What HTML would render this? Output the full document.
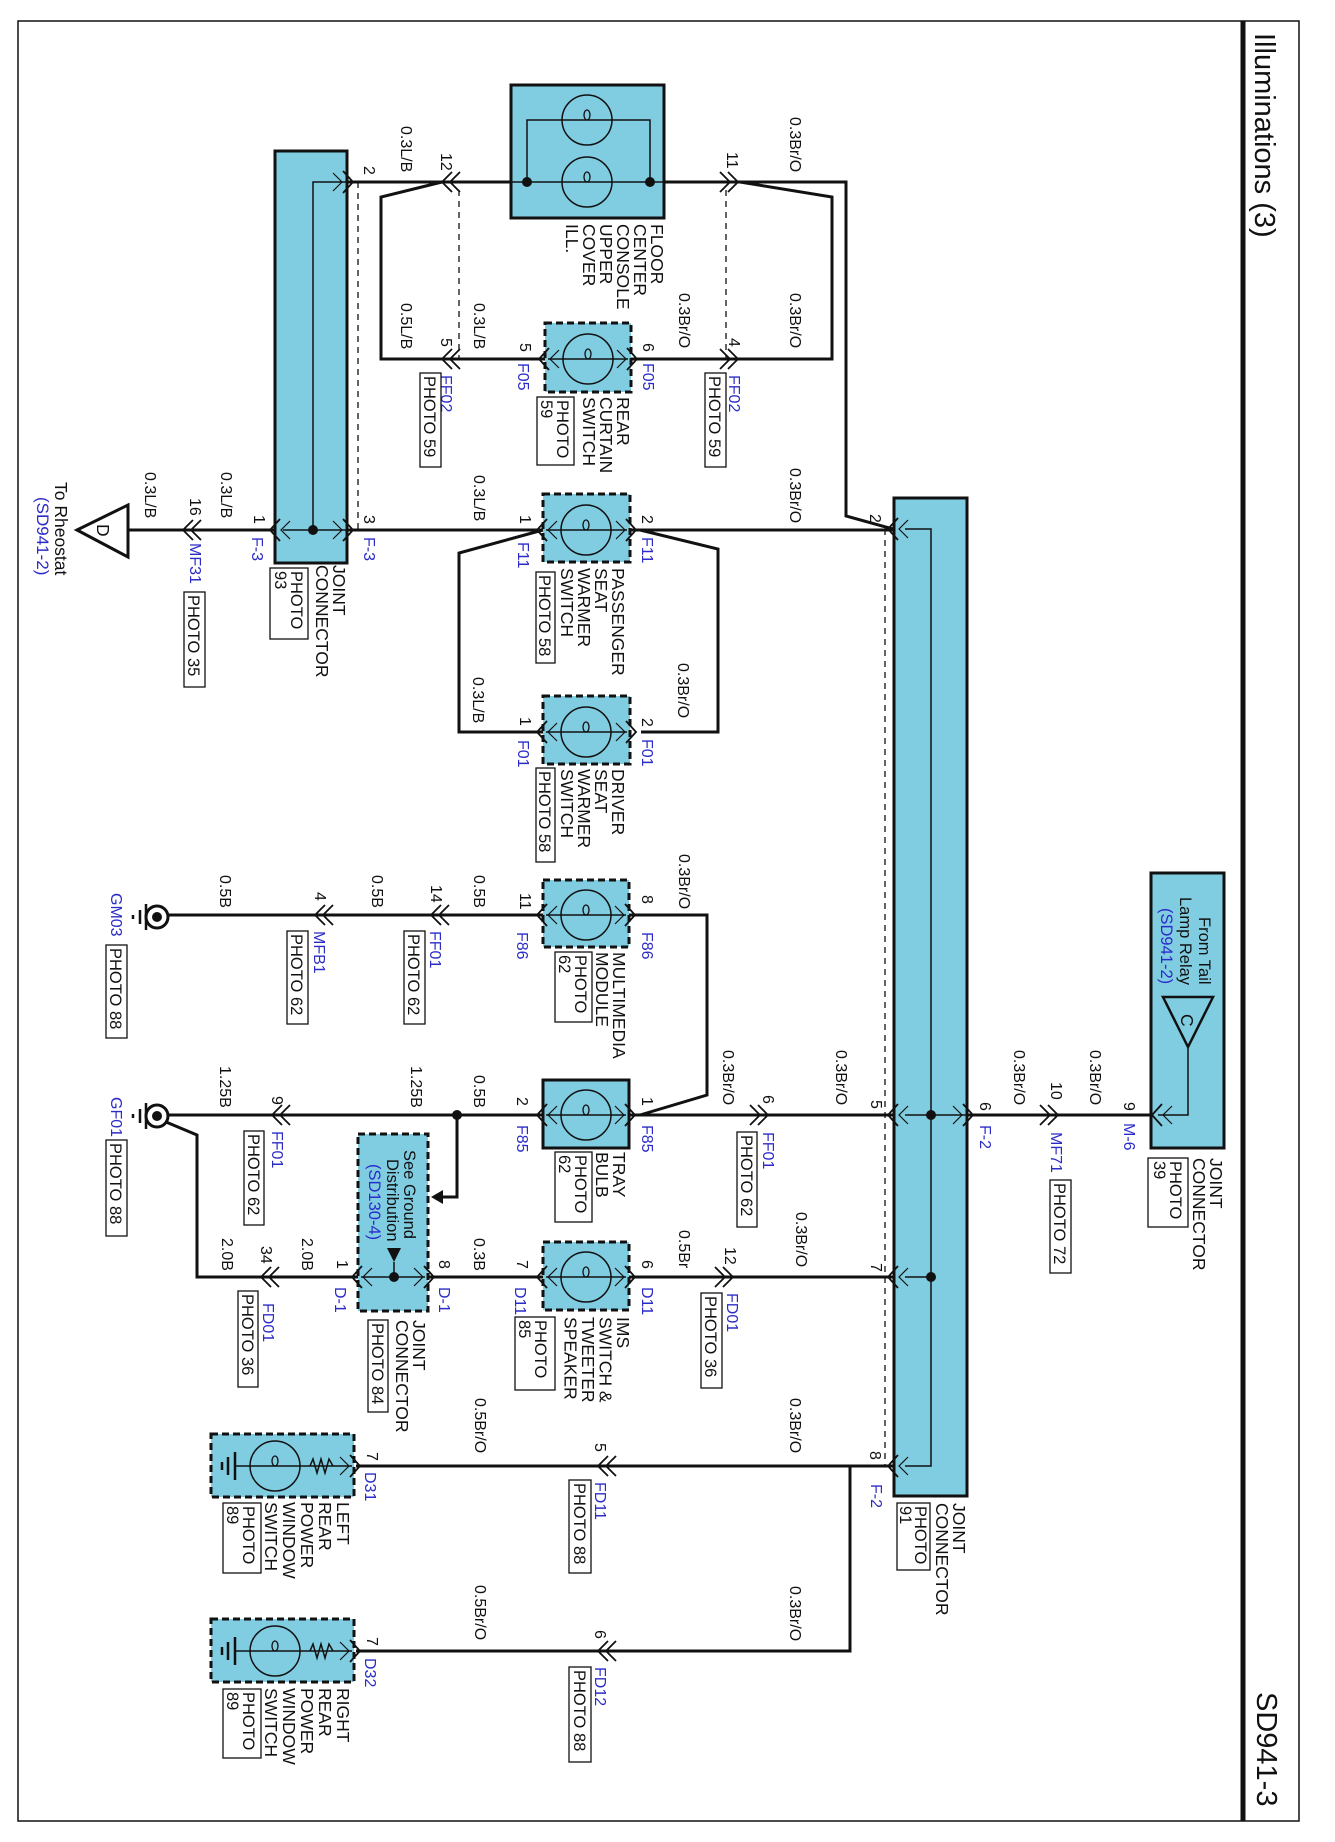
<!DOCTYPE html>
<html><head><meta charset="utf-8"><style>
html,body{margin:0;padding:0;background:#fff}
svg{display:block}
text{font-family:"Liberation Sans",Arial,sans-serif;fill:#111}
.w{font-size:16px}
.c{font-size:17.5px}
.p{font-size:16px}
.b{font-size:16px;fill:#2b2bc8}
.ph{font-size:16.5px}
.wire{fill:none;stroke:#111;stroke-width:3}
.thin{fill:none;stroke:#111;stroke-width:1.5}
.box{fill:#80cde2;stroke:#111;stroke-width:3}
.dbox{fill:#80cde2;stroke:#111;stroke-width:3;stroke-dasharray:7 4}
.dash{fill:none;stroke:#111;stroke-width:1.3;stroke-dasharray:6 5}
.pb{fill:none;stroke:#111;stroke-width:1.3}
</style></head><body>
<svg width="1335" height="1842" viewBox="0 0 1335 1842" xmlns="http://www.w3.org/2000/svg">
<defs>
<g id="bulb"><circle cx="0" cy="0" r="25" fill="none" stroke="#111" stroke-width="1.5"/><ellipse cx="0" cy="-5" rx="3" ry="5" fill="none" stroke="#111" stroke-width="1.3"/></g>
<g id="cl"><path d="M10,-10 L0,0 L10,10 M18,-10 L8,0 L18,10" fill="none" stroke="#111" stroke-width="1.8"/></g>
<g id="cr"><path d="M-10,-10 L0,0 L-10,10 M-18,-10 L-8,0 L-18,10" fill="none" stroke="#111" stroke-width="1.8"/></g>
<g id="pl"><path d="M12,-11 L2,0 L12,11" fill="none" stroke="#111" stroke-width="1.8"/><path d="M22,-9 L13,0 L22,9" fill="none" stroke="#111" stroke-width="1.2"/></g>
<g id="pr"><path d="M-12,-11 L-2,0 L-12,11" fill="none" stroke="#111" stroke-width="1.8"/><path d="M-22,-9 L-13,0 L-22,9" fill="none" stroke="#111" stroke-width="1.2"/></g>
</defs>

<!-- border -->
<path d="M18,21 H1299 V1821 H18 Z" fill="none" stroke="#111" stroke-width="1.5"/>
<line x1="1243" y1="21" x2="1243" y2="1821" stroke="#111" stroke-width="5"/>
<text style="font-size:29px" transform="translate(1255,33) rotate(90)">Illuminations (3)</text>
<text style="font-size:29px" transform="translate(1257,1692) rotate(90)">SD941-3</text>

<!-- ===== TOP SECTION ===== -->
<rect class="box" x="275" y="151" width="72" height="412"/>
<path class="thin" d="M347,182 H313 V530 M283,530 H347"/>
<circle cx="313" cy="530" r="5" fill="#111"/>
<use href="#pr" x="355" y="182"/>
<use href="#pl" x="268" y="530"/>
<use href="#pr" x="355" y="530"/>
<path class="dash" d="M358,182 V530 M459,190 V359 M726,190 V359"/>

<rect class="box" x="511" y="85" width="153" height="133"/>
<path class="thin" d="M511,182 H664 M527,182 V120 H650 V182"/>
<use href="#bulb" x="587" y="120"/>
<use href="#bulb" x="587" y="182"/>
<circle cx="527" cy="182" r="5" fill="#111"/>
<circle cx="650" cy="182" r="5" fill="#111"/>

<path class="wire" d="M348,182 H511 M664,182 H846 V516 L893,529"/>
<path class="wire" d="M442,182 L381,197 V359 H545 M631,359 H832 V197 L740,182"/>
<use href="#cl" x="442" y="182"/>
<use href="#cr" x="738" y="182"/>
<use href="#cl" x="442" y="359"/>
<use href="#cr" x="738" y="359"/>

<rect class="dbox" x="545" y="323" width="86" height="69"/>
<path class="thin" d="M548,359 H628"/>
<use href="#bulb" x="588" y="359"/>
<use href="#pl" x="537" y="359"/>
<use href="#pr" x="639" y="359"/>

<text class="w" transform="translate(401,126) rotate(90)">0.3L/B</text>
<text class="p" transform="translate(364,166) rotate(90)">2</text>
<text class="p" transform="translate(441,153) rotate(90)">12</text>
<text class="p" transform="translate(727,152) rotate(90)">11</text>
<text class="w" transform="translate(790,117) rotate(90)">0.3Br/O</text>
<text class="c" transform="translate(651,224) rotate(90)"><tspan x="0">FLOOR</tspan><tspan x="0" dy="17">CENTER</tspan><tspan x="0" dy="17">CONSOLE</tspan><tspan x="0" dy="17">UPPER</tspan><tspan x="0" dy="17">COVER</tspan><tspan x="0" dy="17">ILL.</tspan></text>
<text class="w" transform="translate(401,303) rotate(90)">0.5L/B</text>
<text class="p" transform="translate(441,338) rotate(90)">5</text>
<text class="w" transform="translate(474,303) rotate(90)">0.3L/B</text>
<text class="p" transform="translate(520,343) rotate(90)">5</text>
<text class="p" transform="translate(643,343) rotate(90)">6</text>
<text class="w" transform="translate(679,293) rotate(90)">0.3Br/O</text>
<text class="p" transform="translate(729,338) rotate(90)">4</text>
<text class="w" transform="translate(790,293) rotate(90)">0.3Br/O</text>
<text class="b" transform="translate(441,375) rotate(90)">FF02</text>
<rect class="pb" x="420" y="373" width="21" height="94"/>
<text class="ph" transform="translate(424,376) rotate(90)">PHOTO 59</text>
<text class="b" transform="translate(518,363) rotate(90)">F05</text>
<text class="b" transform="translate(643,363) rotate(90)">F05</text>
<text class="c" transform="translate(617,397) rotate(90)"><tspan x="0">REAR</tspan><tspan x="0" dy="17">CURTAIN</tspan><tspan x="0" dy="17">SWITCH</tspan></text>
<rect class="pb" x="537" y="397" width="37" height="68"/>
<text class="ph" transform="translate(557,400) rotate(90)"><tspan x="0">PHOTO</tspan><tspan x="0" dy="16">59</tspan></text>
<text class="b" transform="translate(729,375) rotate(90)">FF02</text>
<rect class="pb" x="705" y="373" width="21" height="94"/>
<text class="ph" transform="translate(709,376) rotate(90)">PHOTO 59</text>
<text class="w" transform="translate(790,468) rotate(90)">0.3Br/O</text>
<text class="w" transform="translate(474,475) rotate(90)">0.3L/B</text>

<!-- ===== RHEOSTAT / SEAT ROW ===== -->
<polygon points="77,530 128,505 128,557" fill="#fff" stroke="#111" stroke-width="3"/>
<text class="c" transform="translate(97,524) rotate(90)">D</text>
<path class="wire" d="M128,530 H275 M348,530 H543 M630,530 H893"/>
<path class="wire" d="M543,530 L459,553 V732 H543 M640,530 L718,549 V732 H641"/>
<use href="#cl" x="183" y="530"/>
<text class="c" transform="translate(55,482) rotate(90)">To Rheostat</text>
<text class="b" style="font-size:17px" transform="translate(37,497) rotate(90)">(SD941-2)</text>
<text class="w" transform="translate(145,472) rotate(90)">0.3L/B</text>
<text class="w" transform="translate(221,472) rotate(90)">0.3L/B</text>
<text class="p" transform="translate(190,498) rotate(90)">16</text>
<text class="p" transform="translate(254,515) rotate(90)">1</text>
<text class="p" transform="translate(364,515) rotate(90)">3</text>
<text class="b" transform="translate(190,543) rotate(90)">MF31</text>
<rect class="pb" x="184" y="592" width="21" height="95"/>
<text class="ph" transform="translate(188,595) rotate(90)">PHOTO 35</text>
<text class="b" transform="translate(252,537) rotate(90)">F-3</text>
<text class="b" transform="translate(364,537) rotate(90)">F-3</text>
<text class="c" transform="translate(333,565) rotate(90)"><tspan x="0">JOINT</tspan><tspan x="0" dy="17">CONNECTOR</tspan></text>
<rect class="pb" x="270" y="568" width="38" height="71"/>
<text class="ph" transform="translate(291,571) rotate(90)"><tspan x="0">PHOTO</tspan><tspan x="0" dy="16">93</tspan></text>

<rect class="dbox" x="543" y="494" width="87" height="68"/>
<path class="thin" d="M546,530 H627"/>
<use href="#bulb" x="586" y="530"/>
<use href="#pl" x="535" y="530"/>
<use href="#pr" x="638" y="530"/>
<text class="p" transform="translate(520,515) rotate(90)">1</text>
<text class="p" transform="translate(642,515) rotate(90)">2</text>
<text class="b" transform="translate(518,542) rotate(90)">F11</text>
<text class="b" transform="translate(642,537) rotate(90)">F11</text>
<text class="c" transform="translate(612,568) rotate(90)"><tspan x="0">PASSENGER</tspan><tspan x="0" dy="17">SEAT</tspan><tspan x="0" dy="17">WARMER</tspan><tspan x="0" dy="17">SWITCH</tspan></text>
<rect class="pb" x="536" y="572" width="19" height="91"/>
<text class="ph" transform="translate(539,575) rotate(90)">PHOTO 58</text>
<text class="w" transform="translate(678,663) rotate(90)">0.3Br/O</text>
<text class="w" transform="translate(473,677) rotate(90)">0.3L/B</text>

<rect class="dbox" x="543" y="696" width="87" height="68"/>
<path class="thin" d="M546,732 H627"/>
<use href="#bulb" x="586" y="732"/>
<use href="#pl" x="535" y="732"/>
<use href="#pr" x="638" y="732"/>
<text class="p" transform="translate(520,717) rotate(90)">1</text>
<text class="p" transform="translate(642,718) rotate(90)">2</text>
<text class="b" transform="translate(518,740) rotate(90)">F01</text>
<text class="b" transform="translate(642,739) rotate(90)">F01</text>
<text class="c" transform="translate(612,769) rotate(90)"><tspan x="0">DRIVER</tspan><tspan x="0" dy="17">SEAT</tspan><tspan x="0" dy="17">WARMER</tspan><tspan x="0" dy="17">SWITCH</tspan></text>
<rect class="pb" x="536" y="768" width="19" height="94"/>
<text class="ph" transform="translate(539,771) rotate(90)">PHOTO 58</text>

<!-- ===== MAIN JOINT ===== -->
<rect class="box" x="894" y="498" width="73" height="998"/>
<path class="thin" d="M905,529 H931 V1466 H905 M905,1115 H967 M905,1277 H931"/>
<circle cx="931" cy="1115" r="5" fill="#111"/>
<circle cx="931" cy="1277" r="5" fill="#111"/>
<use href="#pl" x="886" y="529"/>
<use href="#pl" x="886" y="1115"/>
<use href="#pl" x="886" y="1277"/>
<use href="#pl" x="886" y="1466"/>
<use href="#pr" x="975" y="1115"/>
<path class="dash" d="M885,529 V1466"/>
<text class="p" transform="translate(870,514) rotate(90)">2</text>
<text class="p" transform="translate(871,1100) rotate(90)">5</text>
<text class="p" transform="translate(871,1263) rotate(90)">7</text>
<text class="p" transform="translate(870,1451) rotate(90)">8</text>
<text class="p" transform="translate(980,1102) rotate(90)">6</text>
<text class="b" transform="translate(980,1125) rotate(90)">F-2</text>
<text class="b" transform="translate(871,1484) rotate(90)">F-2</text>
<text class="c" transform="translate(953,1503) rotate(90)"><tspan x="0">JOINT</tspan><tspan x="0" dy="17">CONNECTOR</tspan></text>
<rect class="pb" x="897" y="1503" width="33" height="67"/>
<text class="ph" transform="translate(915,1506) rotate(90)"><tspan x="0">PHOTO</tspan><tspan x="0" dy="15">91</tspan></text>

<!-- ===== MULTIMEDIA ROW ===== -->
<path class="wire" d="M543,915 H169 M629,915 H707 V1095 L640,1115"/>
<circle cx="157" cy="917" r="11" fill="#fff" stroke="#111" stroke-width="3"/>
<circle cx="157" cy="917" r="5" fill="#111"/>
<path d="M146,904 V930 M140,910 V924 M133,915 V919" stroke="#111" stroke-width="2.5"/>
<use href="#cl" x="315" y="915"/>
<use href="#cl" x="431" y="915"/>
<rect class="dbox" x="543" y="880" width="86" height="67"/>
<path class="thin" d="M546,915 H626"/>
<use href="#bulb" x="586" y="915"/>
<use href="#pl" x="535" y="915"/>
<use href="#pr" x="637" y="915"/>
<text class="w" transform="translate(679,854) rotate(90)">0.3Br/O</text>
<text class="p" transform="translate(642,895) rotate(90)">8</text>
<text class="p" transform="translate(520,893) rotate(90)">11</text>
<text class="b" transform="translate(517,932) rotate(90)">F86</text>
<text class="b" transform="translate(642,932) rotate(90)">F86</text>
<text class="w" transform="translate(474,875) rotate(90)">0.5B</text>
<text class="p" transform="translate(431,885) rotate(90)">14</text>
<text class="w" transform="translate(372,875) rotate(90)">0.5B</text>
<text class="p" transform="translate(315,892) rotate(90)">4</text>
<text class="w" transform="translate(220,875) rotate(90)">0.5B</text>
<text class="b" transform="translate(430,931) rotate(90)">FF01</text>
<rect class="pb" x="404" y="931" width="21" height="93"/>
<text class="ph" transform="translate(408,934) rotate(90)">PHOTO 62</text>
<text class="b" transform="translate(314,931) rotate(90)">MFB1</text>
<rect class="pb" x="287" y="931" width="21" height="93"/>
<text class="ph" transform="translate(291,934) rotate(90)">PHOTO 62</text>
<text class="b" transform="translate(111,893) rotate(90)">GM03</text>
<rect class="pb" x="106" y="945" width="21" height="93"/>
<text class="ph" transform="translate(110,948) rotate(90)">PHOTO 88</text>
<text class="c" transform="translate(613,952) rotate(90)"><tspan x="0">MULTIMEDIA</tspan><tspan x="0" dy="17">MODULE</tspan></text>
<rect class="pb" x="555" y="952" width="37" height="70"/>
<text class="ph" transform="translate(575,955) rotate(90)"><tspan x="0">PHOTO</tspan><tspan x="0" dy="16">62</tspan></text>

<!-- ===== TRAY ROW ===== -->
<path class="wire" d="M543,1115 H169 M629,1115 H893 M967,1115 H1151"/>
<path class="wire" d="M457,1115 V1197 H442"/>
<polygon points="431,1197 443,1190 443,1204" fill="#111"/>
<circle cx="457" cy="1115" r="5" fill="#111"/>
<circle cx="157" cy="1116" r="11" fill="#fff" stroke="#111" stroke-width="3"/>
<circle cx="157" cy="1116" r="5" fill="#111"/>
<path d="M146,1103 V1129 M140,1109 V1123 M133,1114 V1118" stroke="#111" stroke-width="2.5"/>
<path class="wire" d="M166,1122 L197,1135 V1277 H358"/>
<use href="#cl" x="272" y="1115"/>
<use href="#cr" x="768" y="1115"/>
<use href="#cr" x="1058" y="1115"/>
<rect class="box" x="543" y="1080" width="86" height="68"/>
<path class="thin" d="M546,1115 H626"/>
<use href="#bulb" x="586" y="1115"/>
<use href="#pl" x="535" y="1115"/>
<use href="#pr" x="637" y="1115"/>
<text class="w" transform="translate(474,1075) rotate(90)">0.5B</text>
<text class="w" transform="translate(411,1066) rotate(90)">1.25B</text>
<text class="w" transform="translate(220,1066) rotate(90)">1.25B</text>
<text class="p" transform="translate(517,1097) rotate(90)">2</text>
<text class="p" transform="translate(642,1097) rotate(90)">1</text>
<text class="p" transform="translate(272,1096) rotate(90)">9</text>
<text class="b" transform="translate(272,1131) rotate(90)">FF01</text>
<rect class="pb" x="244" y="1131" width="20" height="94"/>
<text class="ph" transform="translate(248,1134) rotate(90)">PHOTO 62</text>
<text class="b" transform="translate(111,1097) rotate(90)">GF01</text>
<rect class="pb" x="106" y="1140" width="21" height="96"/>
<text class="ph" transform="translate(110,1143) rotate(90)">PHOTO 88</text>
<text class="b" transform="translate(517,1125) rotate(90)">F85</text>
<text class="b" transform="translate(642,1125) rotate(90)">F85</text>
<text class="c" transform="translate(613,1152) rotate(90)"><tspan x="0">TRAY</tspan><tspan x="0" dy="17">BULB</tspan></text>
<rect class="pb" x="555" y="1152" width="37" height="70"/>
<text class="ph" transform="translate(575,1155) rotate(90)"><tspan x="0">PHOTO</tspan><tspan x="0" dy="16">62</tspan></text>
<text class="w" transform="translate(723,1050) rotate(90)">0.3Br/O</text>
<text class="p" transform="translate(763,1095) rotate(90)">6</text>
<text class="b" transform="translate(763,1132) rotate(90)">FF01</text>
<rect class="pb" x="737" y="1132" width="20" height="95"/>
<text class="ph" transform="translate(741,1135) rotate(90)">PHOTO 62</text>
<text class="w" transform="translate(836,1050) rotate(90)">0.3Br/O</text>
<text class="w" transform="translate(1014,1050) rotate(90)">0.3Br/O</text>
<text class="p" transform="translate(1051,1082) rotate(90)">10</text>
<text class="b" transform="translate(1051,1132) rotate(90)">MF71</text>
<rect class="pb" x="1050" y="1180" width="21" height="93"/>
<text class="ph" transform="translate(1054,1183) rotate(90)">PHOTO 72</text>
<text class="w" transform="translate(1090,1050) rotate(90)">0.3Br/O</text>
<text class="p" transform="translate(1124,1102) rotate(90)">9</text>
<text class="b" transform="translate(1124,1123) rotate(90)">M-6</text>

<!-- tail lamp joint -->
<rect class="box" x="1151" y="873" width="73" height="275"/>
<polygon points="1163,997 1213,997 1188,1047" fill="none" stroke="#111" stroke-width="2.5"/>
<text class="c" transform="translate(1181,1014) rotate(90)">C</text>
<path class="thin" d="M1188,1047 V1115 H1158"/>
<use href="#pl" x="1150" y="1115"/>
<text class="c" style="font-size:16.5px" transform="translate(1199,917) rotate(90)">From Tail</text>
<text class="c" style="font-size:16.5px" transform="translate(1180,897) rotate(90)">Lamp Relay</text>
<text class="b" style="font-size:16.5px" transform="translate(1161,908) rotate(90)">(SD941-2)</text>
<text class="c" transform="translate(1210,1158) rotate(90)"><tspan x="0">JOINT</tspan><tspan x="0" dy="17">CONNECTOR</tspan></text>
<rect class="pb" x="1148" y="1158" width="40" height="69"/>
<text class="ph" transform="translate(1170,1161) rotate(90)"><tspan x="0">PHOTO</tspan><tspan x="0" dy="16">39</tspan></text>

<!-- ===== IMS ROW ===== -->
<rect class="dbox" x="358" y="1134" width="70" height="177"/>
<path class="thin" d="M361,1277 H425 M394,1277 V1262"/>
<polygon points="387,1248 401,1248 394,1262" fill="#111"/>
<circle cx="394" cy="1277" r="5" fill="#111"/>
<use href="#pl" x="350" y="1277"/>
<use href="#pr" x="436" y="1277"/>
<text class="c" style="font-size:16.5px" transform="translate(404,1150) rotate(90)">See Ground</text>
<text class="c" style="font-size:16.5px" transform="translate(387,1159) rotate(90)">Distribution</text>
<text class="b" style="font-size:16.5px" transform="translate(369,1164) rotate(90)">(SD130-4)</text>
<path class="wire" d="M428,1277 H543 M629,1277 H893"/>
<use href="#cl" x="261" y="1277"/>
<use href="#cr" x="733" y="1277"/>
<rect class="dbox" x="543" y="1242" width="86" height="68"/>
<path class="thin" d="M546,1277 H626"/>
<use href="#bulb" x="586" y="1277"/>
<use href="#pl" x="535" y="1277"/>
<use href="#pr" x="637" y="1277"/>
<text class="w" transform="translate(796,1212) rotate(90)">0.3Br/O</text>
<text class="w" transform="translate(679,1230) rotate(90)">0.5Br</text>
<text class="p" transform="translate(725,1247) rotate(90)">12</text>
<text class="b" transform="translate(727,1293) rotate(90)">FD01</text>
<rect class="pb" x="701" y="1293" width="21" height="95"/>
<text class="ph" transform="translate(705,1296) rotate(90)">PHOTO 36</text>
<text class="w" transform="translate(474,1238) rotate(90)">0.3B</text>
<text class="p" transform="translate(517,1260) rotate(90)">7</text>
<text class="p" transform="translate(642,1260) rotate(90)">6</text>
<text class="p" transform="translate(439,1260) rotate(90)">8</text>
<text class="p" transform="translate(337,1260) rotate(90)">1</text>
<text class="w" transform="translate(302,1238) rotate(90)">2.0B</text>
<text class="p" transform="translate(261,1246) rotate(90)">34</text>
<text class="w" transform="translate(222,1238) rotate(90)">2.0B</text>
<text class="b" transform="translate(439,1287) rotate(90)">D-1</text>
<text class="b" transform="translate(335,1287) rotate(90)">D-1</text>
<text class="b" transform="translate(515,1287) rotate(90)">D11</text>
<text class="b" transform="translate(642,1287) rotate(90)">D11</text>
<text class="b" transform="translate(263,1303) rotate(90)">FD01</text>
<rect class="pb" x="238" y="1291" width="20" height="96"/>
<text class="ph" transform="translate(242,1294) rotate(90)">PHOTO 36</text>
<text class="c" transform="translate(617,1317) rotate(90)"><tspan x="0">IMS</tspan><tspan x="0" dy="17.5">SWITCH &amp;</tspan><tspan x="0" dy="17.5">TWEETER</tspan><tspan x="0" dy="17.5">SPEAKER</tspan></text>
<rect class="pb" x="515" y="1317" width="40" height="73"/>
<text class="ph" transform="translate(535,1320) rotate(90)"><tspan x="0">PHOTO</tspan><tspan x="0" dy="16">85</tspan></text>
<text class="c" transform="translate(413,1320) rotate(90)"><tspan x="0">JOINT</tspan><tspan x="0" dy="17">CONNECTOR</tspan></text>
<rect class="pb" x="368" y="1320" width="20" height="92"/>
<text class="ph" transform="translate(372,1323) rotate(90)">PHOTO 84</text>

<!-- ===== WINDOW SWITCHES ===== -->
<path class="wire" d="M893,1466 H356 M850,1466 V1651 H356"/>
<use href="#cl" x="598" y="1466"/>
<use href="#cl" x="598" y="1651"/>
<g>
<rect class="dbox" x="211" y="1434" width="143" height="63"/>
<path class="thin" d="M235,1466 H352"/>
<path d="M222,1462 V1470 M228,1457 V1475 M235,1452 V1480" stroke="#111" stroke-width="2.5"/>
<circle cx="275" cy="1466" r="25" fill="none" stroke="#111" stroke-width="1.5"/>
<ellipse cx="275" cy="1461" rx="3" ry="5" fill="none" stroke="#111" stroke-width="1.3"/>
<path class="thin" d="M310,1466 L313,1459 L317,1473 L321,1459 L325,1473 L329,1459 L333,1466"/>
<use href="#pr" x="362" y="1466"/>
</g>
<g>
<rect class="dbox" x="211" y="1619" width="143" height="63"/>
<path class="thin" d="M235,1651 H352"/>
<path d="M222,1647 V1655 M228,1642 V1660 M235,1637 V1665" stroke="#111" stroke-width="2.5"/>
<circle cx="275" cy="1651" r="25" fill="none" stroke="#111" stroke-width="1.5"/>
<ellipse cx="275" cy="1646" rx="3" ry="5" fill="none" stroke="#111" stroke-width="1.3"/>
<path class="thin" d="M310,1651 L313,1644 L317,1658 L321,1644 L325,1658 L329,1644 L333,1651"/>
<use href="#pr" x="362" y="1651"/>
</g>
<text class="w" transform="translate(790,1398) rotate(90)">0.3Br/O</text>
<text class="w" transform="translate(475,1398) rotate(90)">0.5Br/O</text>
<text class="p" transform="translate(595,1443) rotate(90)">5</text>
<text class="b" transform="translate(595,1482) rotate(90)">FD11</text>
<rect class="pb" x="569" y="1480" width="22" height="93"/>
<text class="ph" transform="translate(574,1483) rotate(90)">PHOTO 88</text>
<text class="p" transform="translate(367,1452) rotate(90)">7</text>
<text class="b" transform="translate(365,1472) rotate(90)">D31</text>
<text class="c" transform="translate(337,1502) rotate(90)"><tspan x="0">LEFT</tspan><tspan x="0" dy="18">REAR</tspan><tspan x="0" dy="18">POWER</tspan><tspan x="0" dy="18">WINDOW</tspan><tspan x="0" dy="18">SWITCH</tspan></text>
<rect class="pb" x="223" y="1503" width="38" height="70"/>
<text class="ph" transform="translate(243,1506) rotate(90)"><tspan x="0">PHOTO</tspan><tspan x="0" dy="16">89</tspan></text>

<text class="w" transform="translate(790,1586) rotate(90)">0.3Br/O</text>
<text class="w" transform="translate(475,1585) rotate(90)">0.5Br/O</text>
<text class="p" transform="translate(595,1630) rotate(90)">6</text>
<text class="b" transform="translate(595,1667) rotate(90)">FD12</text>
<rect class="pb" x="569" y="1667" width="22" height="95"/>
<text class="ph" transform="translate(574,1670) rotate(90)">PHOTO 88</text>
<text class="p" transform="translate(367,1637) rotate(90)">7</text>
<text class="b" transform="translate(365,1658) rotate(90)">D32</text>
<text class="c" transform="translate(337,1688) rotate(90)"><tspan x="0">RIGHT</tspan><tspan x="0" dy="18">REAR</tspan><tspan x="0" dy="18">POWER</tspan><tspan x="0" dy="18">WINDOW</tspan><tspan x="0" dy="18">SWITCH</tspan></text>
<rect class="pb" x="223" y="1689" width="38" height="69"/>
<text class="ph" transform="translate(243,1692) rotate(90)"><tspan x="0">PHOTO</tspan><tspan x="0" dy="16">89</tspan></text>
</svg>
</body></html>
